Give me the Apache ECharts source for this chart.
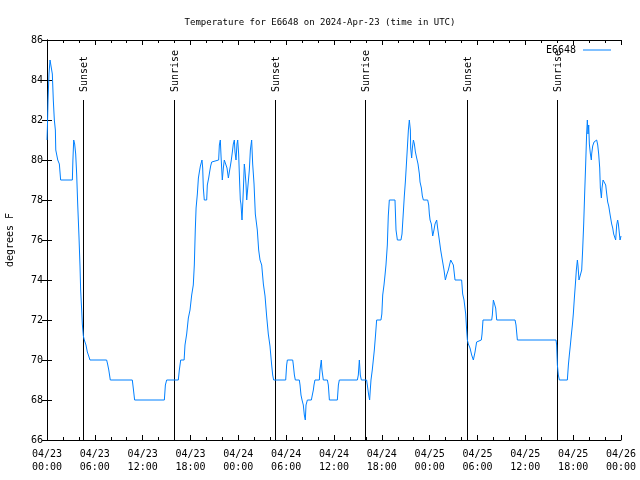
<!DOCTYPE html>
<html>
<head>
<meta charset="utf-8">
<script src="https://cdn.jsdelivr.net/npm/echarts@6/dist/echarts.min.js"></script>
<style>html,body{margin:0;padding:0;background:#fff}#chart{width:640px;height:480px}</style>
</head>
<body>
<div id="chart"></div>
<script>
// Hours since 2024-04-23 00:00 UTC
const hours = [
0.00,0.05,0.13,0.25,0.38,0.63,0.67,0.79,0.92,1.05,1.10,1.30,1.35,1.50,1.55,1.71,3.18,3.25,3.35,3.47,
3.60,3.72,3.85,4.01,4.14,4.22,4.35,4.43,4.56,4.68,4.89,5.06,5.23,5.39,7.48,7.60,7.75,7.94,10.70,10.85,
10.99,14.72,14.85,15.01,16.47,16.60,16.77,17.20,17.31,17.52,17.73,17.94,18.15,18.35,18.48,18.60,18.70,18.86,18.99,19.11,
19.24,19.36,19.44,19.53,19.61,19.73,20.03,20.11,20.28,20.40,20.53,20.66,20.78,21.53,21.62,21.74,21.83,21.91,21.99,22.12,
22.24,22.45,22.58,22.75,22.87,23.00,23.12,23.25,23.37,23.50,23.58,23.71,23.83,23.92,24.04,24.17,24.25,24.33,24.46,24.55,
24.63,24.75,24.83,24.96,25.05,25.25,25.38,25.51,25.67,25.80,25.97,26.13,26.38,26.55,26.72,26.93,27.14,27.35,27.55,27.76,
27.97,28.18,28.31,28.43,29.94,30.06,30.15,30.82,30.90,31.03,31.15,31.65,31.74,31.86,31.99,32.15,32.28,32.40,32.49,32.66,
33.16,33.28,33.41,33.49,33.61,34.16,34.24,34.41,34.49,34.66,35.17,35.29,35.42,36.42,36.55,36.67,38.93,39.05,39.18,39.30,
39.43,40.09,40.18,40.35,40.47,40.55,40.64,40.80,40.93,41.06,41.20,41.35,41.89,42.00,42.11,42.27,42.40,42.52,42.69,42.81,
42.94,43.65,43.78,43.95,44.40,44.53,44.70,44.82,44.95,45.07,45.20,45.33,45.45,45.58,45.62,45.74,45.83,45.96,46.08,46.21,
46.37,46.54,46.71,46.79,46.96,47.08,47.21,47.75,47.88,47.96,48.05,48.21,48.38,48.54,48.67,48.88,49.00,49.21,49.38,49.59,
49.80,49.97,50.13,50.34,50.64,50.84,50.97,51.18,52.01,52.14,52.31,52.52,52.64,52.73,52.85,53.06,53.27,53.48,53.69,53.89,
53.98,54.48,54.57,54.69,55.78,55.86,55.99,56.20,56.28,56.41,58.71,58.83,59.00,63.85,63.93,64.02,64.14,64.27,65.27,65.40,
65.52,65.65,65.77,65.90,66.02,66.15,66.28,66.40,66.53,66.61,66.73,66.94,67.07,67.19,67.32,67.44,67.57,67.69,67.78,67.86,
67.95,68.03,68.16,68.28,68.32,68.45,68.62,68.74,68.95,69.08,69.20,69.33,69.41,69.54,69.62,69.75,69.91,70.08,70.21,70.33,
70.46,70.62,70.75,70.83,70.96,71.08,71.21,71.33,71.46,71.58,71.67,71.75,71.88,72.00
];
// Temperature, degrees F
const tempF = [
81.0,81.6,83.0,84.3,85.0,85.0,84.3,83.0,82.0,81.5,80.5,80.5,80.0,80.0,79.8,79.0,79.0,80.0,81.0,80.8,
80.3,79.3,77.8,76.2,74.7,73.5,72.5,71.8,71.2,71.0,70.75,70.4,70.2,70.0,70.0,69.8,69.5,69.0,69.0,68.5,
68.0,68.0,68.75,69.0,69.0,69.5,70.0,70.0,70.75,71.3,72.1,72.5,73.25,73.75,74.75,76.5,77.6,78.3,79.1,79.4,
79.7,79.8,80.0,79.6,78.6,78.0,78.0,78.75,79.1,79.4,79.7,79.9,80.0,80.0,80.75,81.0,80.2,79.6,79.0,79.6,
80.0,80.0,79.6,79.1,79.4,79.7,80.0,80.4,80.8,81.0,80.4,80.0,80.8,81.0,80.3,78.8,78.0,77.8,77.0,77.1,
78.5,79.8,79.5,78.8,78.0,78.0,79.5,80.5,81.0,79.8,78.8,77.3,76.5,75.5,75.0,74.75,73.8,73.2,72.2,71.3,
70.7,69.75,69.25,69.0,69.0,69.75,70.0,70.0,69.75,69.25,69.0,69.0,68.75,68.25,68.0,67.75,67.25,67.0,67.75,68.0,
68.0,68.25,68.5,68.75,69.0,69.0,69.5,70.0,69.5,69.0,69.0,68.75,68.0,68.0,68.75,69.0,69.0,69.25,70.0,69.25,
69.0,69.0,68.75,68.25,68.0,68.5,69.0,69.5,70.0,70.5,71.2,72.0,72.0,72.3,73.25,73.75,74.25,74.75,75.75,77.2,
78.0,78.0,76.5,76.0,76.0,76.3,77.4,78.2,78.9,79.7,80.6,81.5,82.0,81.5,80.6,80.1,80.6,81.0,80.8,80.4,
80.1,79.8,79.3,78.9,78.6,78.2,78.0,78.0,77.75,77.3,77.0,76.8,76.2,76.5,76.8,77.0,76.6,76.0,75.5,75.0,
74.5,74.0,74.25,74.5,75.0,75.0,74.75,74.0,74.0,73.3,73.0,72.3,71.5,71.0,70.8,70.6,70.25,70.0,70.4,70.9,
71.0,71.0,71.3,72.0,72.0,72.25,73.0,73.0,72.6,72.0,72.0,71.75,71.0,71.0,70.75,69.75,69.25,69.0,69.0,69.75,
70.25,70.75,71.25,71.75,72.3,73.1,73.8,74.5,75.0,74.7,74.0,74.0,74.5,75.5,76.8,78.3,79.8,81.3,82.0,81.3,
81.75,80.8,80.3,80.0,80.3,80.7,80.9,81.0,81.0,80.75,80.3,79.6,78.6,78.1,78.6,79.0,79.0,78.75,78.3,77.9,
77.7,77.3,77.2,76.8,76.6,76.3,76.2,76.0,76.75,77.0,76.8,76.5,76.0,76.2
];
// Sun events (hours since 2024-04-23 00:00 UTC)
const eventHours = [4.55, 15.97, 28.63, 39.95, 52.70, 63.93];
const eventLabels = ['Sunset', 'Sunrise', 'Sunset', 'Sunrise', 'Sunset', 'Sunrise'];
const eventLineBottom = 66;
const eventLineTop = 83;

const seriesName = 'E6648';
const titleText = 'Temperature for E6648 on 2024-Apr-23 (time in UTC)';
const yName = 'degrees F';

const FONT = '"DejaVu Sans Mono", monospace';

function xLabel(v) {
  const day = 23 + Math.floor(v / 24);
  const hh = v % 24;
  return '04/' + String(day).padStart(2, '0') + '\n' + String(hh).padStart(2, '0') + ':00';
}

const chart = echarts.init(document.getElementById('chart'), null, {renderer: 'canvas'});
const axisCommon = {
  axisLine: {show: true, lineStyle: {color: '#000', width: 1}},
  splitLine: {show: false}
};
chart.setOption({
  animation: false,
  backgroundColor: '#fff',
  title: {
    text: titleText, left: 'center', top: 13,
    textStyle: {fontFamily: FONT, fontSize: 9, fontWeight: 'normal', color: '#000'}
  },
  legend: {
    data: [seriesName], right: 24, top: 40, align: 'right',
    icon: 'rect', itemWidth: 28, itemHeight: 1, itemGap: 5,
    textStyle: {fontFamily: FONT, fontSize: 10, color: '#000', padding: [0, 2, 0, 0]}
  },
  grid: {left: 47, right: 19, top: 40, bottom: 40, containLabel: false, outerBoundsMode: 'none'},
  xAxis: [
    Object.assign({}, axisCommon, {
      type: 'value', min: 0, max: 72, interval: 6, position: 'bottom',
      axisTick: {show: true, inside: true, length: 5, lineStyle: {color: '#000'}},
      minorTick: {show: true, splitNumber: 3, length: 3, lineStyle: {color: '#000'}},
      axisLabel: {formatter: xLabel, fontFamily: FONT, fontSize: 10, color: '#000', margin: 8, lineHeight: 13}
    }),
    Object.assign({}, axisCommon, {
      type: 'value', min: 0, max: 72, interval: 6, position: 'top',
      axisTick: {show: true, inside: true, length: 5, lineStyle: {color: '#000'}},
      minorTick: {show: true, splitNumber: 3, length: 3, lineStyle: {color: '#000'}},
      axisLabel: {show: false}
    })
  ],
  yAxis: [
    Object.assign({}, axisCommon, {
      type: 'value', min: 66, max: 86, interval: 2, position: 'left',
      name: yName, nameLocation: 'middle', nameGap: 32,
      nameTextStyle: {fontFamily: FONT, fontSize: 10, color: '#000'},
      axisTick: {show: true, inside: true, length: 5, lineStyle: {color: '#000'}},
      axisLabel: {fontFamily: FONT, fontSize: 10, color: '#000', margin: 4}
    }),
    Object.assign({}, axisCommon, {
      type: 'value', min: 66, max: 86, interval: 2, position: 'right',
      axisTick: {show: true, inside: true, length: 5, lineStyle: {color: '#000'}},
      axisLabel: {show: false}
    })
  ],
  series: [
    {
      name: seriesName, type: 'line', xAxisIndex: 0, yAxisIndex: 0,
      data: hours.map((h, i) => [h, tempF[i]]),
      symbol: 'none', showSymbol: false,
      itemStyle: {color: '#0080ff'},
      lineStyle: {color: '#0080ff', width: 1},
      z: 3
    },
    {
      name: 'events', type: 'custom', xAxisIndex: 0, yAxisIndex: 0,
      data: eventHours.map(h => [h]),
      encode: {x: 0},
      z: 2,
      renderItem: function (params, api) {
        const t = api.value(0);
        const p0 = api.coord([t, eventLineBottom]);
        const p1 = api.coord([t, eventLineTop]);
        const x = Math.round(p0[0]) + 0.5;
        return {
          type: 'group',
          children: [
            {type: 'line', shape: {x1: x, y1: p0[1], x2: x, y2: p1[1]},
             style: {stroke: '#000', lineWidth: 1}},
            {type: 'text', x: x + 1, y: p1[1] - 8, rotation: Math.PI / 2,
             style: {text: eventLabels[params.dataIndex], align: 'left', verticalAlign: 'middle',
                     textAlign: 'left', textVerticalAlign: 'middle',
                     font: '10px ' + FONT, fill: '#000'}}
          ]
        };
      }
    }
  ]
});
</script>
</body>
</html>
